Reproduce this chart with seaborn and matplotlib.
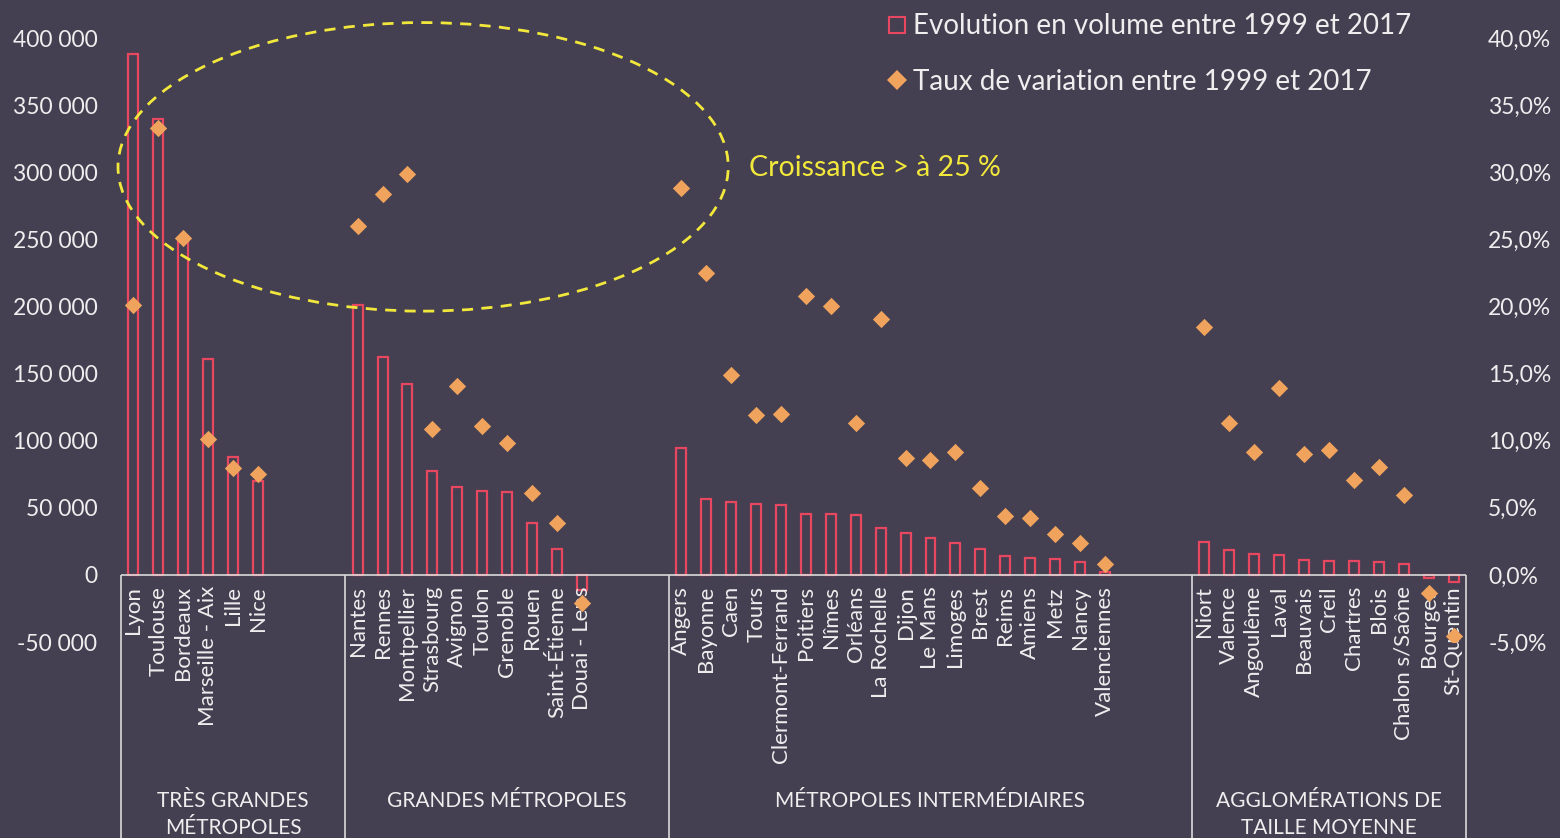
import numpy as np
import pandas as pd
import matplotlib
matplotlib.use("Agg")
import matplotlib.pyplot as plt
from matplotlib.patches import Ellipse
from matplotlib.lines import Line2D
from matplotlib.ticker import FuncFormatter, MultipleLocator
import matplotlib.transforms as mtransforms
import seaborn as sns

# ---------------- data ----------------
groupes = ["TRÈS GRANDES\nMÉTROPOLES", "GRANDES MÉTROPOLES",
           "MÉTROPOLES INTERMÉDIAIRES", "AGGLOMÉRATIONS DE\nTAILLE MOYENNE"]

villes_1 = ["Lyon", "Toulouse", "Bordeaux", "Marseille - Aix", "Lille", "Nice"]
volume_1 = [388000, 340000, 248000, 161000, 88000, 70000]
taux_1 = [20.1, 33.3, 25.1, 10.1, 8.0, 7.5]

villes_2 = ["Nantes", "Rennes", "Montpellier", "Strasbourg", "Avignon", "Toulon",
            "Grenoble", "Rouen", "Saint-Étienne", "Douai - Lens"]
volume_2 = [201000, 162500, 142000, 77700, 65800, 62800, 61600, 38500, 19600, -11200]
taux_2 = [26.0, 28.4, 29.9, 10.9, 14.1, 11.1, 9.8, 6.1, 3.85, -2.1]

villes_3 = ["Angers", "Bayonne", "Caen", "Tours", "Clermont-Ferrand", "Poitiers",
            "Nîmes", "Orléans", "La Rochelle", "Dijon", "Le Mans", "Limoges",
            "Brest", "Reims", "Amiens", "Metz", "Nancy", "Valenciennes"]
volume_3 = [94800, 56400, 54600, 52900, 51900, 45700, 45200, 44900, 34800, 31500,
            27800, 24100, 19600, 13900, 12400, 11900, 9900, 2500]
taux_3 = [28.8, 22.5, 14.9, 11.9, 12.0, 20.8, 20.0, 11.3, 19.1, 8.74, 8.54, 9.14,
          6.46, 4.39, 4.22, 3.08, 2.36, 0.8]

villes_4 = ["Niort", "Valence", "Angoulême", "Laval", "Beauvais", "Creil", "Chartres",
            "Blois", "Chalon s/Saône", "Bourges", "St-Quentin"]
volume_4 = [24800, 18600, 15600, 15100, 10900, 10700, 10200, 9400, 8200, -2000, -5500]
taux_4 = [18.5, 11.3, 9.14, 13.9, 8.99, 9.33, 7.1, 8.04, 5.98, -1.36, -4.52]

vides = [3, 3, 3, 0]  # empty category slots after each group

serie_volume = "Evolution en volume entre 1999 et 2017"
serie_taux = "Taux de variation entre 1999 et 2017"
annotation = "Croissance > à 25 %"

# ---------------- build table ----------------
villes = [villes_1, villes_2, villes_3, villes_4]
volumes = [volume_1, volume_2, volume_3, volume_4]
taux = [taux_1, taux_2, taux_3, taux_4]

order, rows, bornes = [], [], [-0.5]
k = 0
for g, (vs, vo, ta, nv) in enumerate(zip(villes, volumes, taux, vides)):
    for v, a, b in zip(vs, vo, ta):
        rows.append(dict(groupe=groupes[g], ville=v, volume=a, taux=b, pos=len(order)))
        order.append(v)
    for _ in range(nv):
        k += 1
        order.append(" " * k)
    bornes.append(len(order) - 0.5)
df = pd.DataFrame(rows)

# ---------------- style ----------------
BG = "#443F51"
RED = "#E8485F"
ORANGE = "#F0A35C"
YELLOW = "#F2E83C"
TXT = "#EEEEEE"
LINE = "#D9D9D9"

sns.set_theme(style="dark", rc={"axes.facecolor": BG, "figure.facecolor": BG,
                                "axes.grid": False, "axes.edgecolor": BG})
plt.rcParams["font.family"] = ["Lato", "DejaVu Sans"]

W, H = 1560, 838
fig = plt.figure(figsize=(W / 100, H / 100), dpi=100, facecolor=BG)
ax = fig.add_axes([121 / W, 1 - 642 / H, (1466 - 121) / W, (642 - 38) / H])

sns.barplot(data=df, x="ville", y="volume", order=order, ax=ax, fill=False,
            color=RED, linewidth=1.6, width=0.4, errorbar=None)
ax.set_xlim(-0.5, len(order) - 0.5)
ax.set_ylim(-50000, 400000)
ax.set_xticks([])
ax.set_xlabel("")
ax.set_ylabel("")
ax.yaxis.set_major_locator(MultipleLocator(50000))
ax.yaxis.set_major_formatter(FuncFormatter(lambda v, _: f"{int(round(v)):,}".replace(",", " ")))
ax.tick_params(axis="y", length=0, pad=17, labelsize=16.5, labelcolor=TXT)
for s in ax.spines.values():
    s.set_visible(False)

ax2 = ax.twinx()
sns.scatterplot(data=df, x="pos", y="taux", ax=ax2, marker="D", s=78,
                color=ORANGE, linewidth=0, legend=False, zorder=5)
ax2.set_xlim(-0.5, len(order) - 0.5)
ax2.set_ylim(-5, 40)
ax2.set_ylabel("")
ax2.set_xlabel("")
ax2.yaxis.set_major_locator(MultipleLocator(5))
ax2.yaxis.set_major_formatter(FuncFormatter(lambda v, _: f"{v:.1f}".replace(".", ",") + "%"))
ax2.tick_params(axis="y", length=0, pad=16, labelsize=16.5, labelcolor=TXT)
ax2.patch.set_visible(False)
for s in ax2.spines.values():
    s.set_visible(False)

# zero axis line and group separators
ax.axhline(0, color=LINE, lw=1.2, zorder=3)
ax.vlines(bornes, -215000, 0, color=LINE, lw=1.2, clip_on=False)

# city labels
for _, r in df.iterrows():
    ax.annotate(r["ville"], xy=(r["pos"], 0), xytext=(0, -8), textcoords="offset points",
                rotation=90, ha="center", va="top", fontsize=16, color=TXT,
                annotation_clip=False)

# group labels
trans = mtransforms.blended_transform_factory(ax.transData, fig.transFigure)
for g, lab in enumerate(groupes):
    xc = (bornes[g] + bornes[g + 1]) / 2
    fig.text(xc, 1 - 791 / H, lab, transform=trans, ha="center", va="top",
             fontsize=15, color=TXT, linespacing=1.45)

# ellipse annotation
ell = Ellipse((11.63, 30.4), width=24.5, height=21.5, fill=False, edgecolor=YELLOW,
              lw=2, linestyle=(0, (4, 3)), clip_on=False, zorder=6)
ax2.add_patch(ell)
ax2.text(24.7, 30.3, annotation, ha="left", va="center", fontsize=20.5, color=YELLOW)

# legend
handles = [Line2D([], [], marker="s", linestyle="none", markersize=11,
                  markerfacecolor="none", markeredgecolor=RED, markeredgewidth=1.5),
           Line2D([], [], marker="D", linestyle="none", markersize=10,
                  markerfacecolor=ORANGE, markeredgewidth=0)]
fig.legend(handles, [serie_volume, serie_taux], loc="upper left",
           bbox_to_anchor=(866 / W, 1 + 6 / H), frameon=False, fontsize=20,
           labelcolor=TXT, handlelength=0.8, handletextpad=0.2, labelspacing=1.05,
           borderpad=0.2)

fig.savefig("out.png", dpi=100, facecolor=BG)
